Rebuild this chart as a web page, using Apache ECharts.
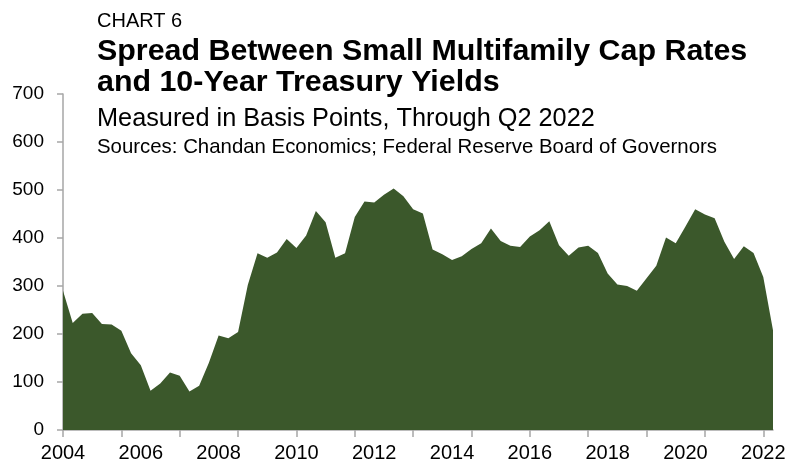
<!DOCTYPE html>
<html>
<head>
<meta charset="utf-8">
<script src="https://cdn.jsdelivr.net/npm/echarts@6/dist/echarts.min.js"></script>
<style>
  html, body { margin: 0; padding: 0; background: #ffffff; }
  #chart { width: 803px; height: 465px; }
</style>
</head>
<body>
<div id="chart"></div>
<script>
// Quarters from 2004 Q1 through 2022 Q2
const years = [];
for (let y = 2004; y <= 2022; y++) years.push(y);
const quarters = [];
years.forEach(y => {
  for (let q = 1; q <= 4; q++) {
    if (y === 2022 && q > 2) break;
    quarters.push(y + ' Q' + q);
  }
});

// Spread between small multifamily cap rates and 10-year Treasury yields (bps)
const spreadBps = [
  290, 223, 242, 244, 221, 220, 207, 160,
  135, 82, 97, 120, 113, 80, 92, 140,
  197, 191, 204, 302, 368, 359, 370, 398,
  379, 405, 456, 433, 359, 368, 444, 476,
  474, 490, 503, 487, 460, 451, 376, 366,
  354, 362, 377, 389, 420, 394, 384, 381,
  403, 416, 435, 385, 363, 380, 384, 369,
  326, 303, 300, 290, 316, 342, 401, 389,
  424, 460, 449, 441, 392, 356, 383, 369,
  319, 208
];

const yTicks = [0, 100, 200, 300, 400, 500, 600, 700];

const FONT = '"Liberation Sans", Arial, Helvetica, sans-serif';
const chart = echarts.init(document.getElementById('chart'), null, { renderer: 'canvas' });

chart.setOption({
  backgroundColor: '#ffffff',
  animation: false,
  title: [
    {
      text: 'CHART 6',
      left: 92, top: 6,
      textStyle: { fontFamily: FONT, fontSize: 20, fontWeight: 'normal', color: '#000000' }
    },
    {
      text: 'Spread Between Small Multifamily Cap Rates\nand 10-Year Treasury Yields',
      left: 92, top: 31,
      textStyle: { fontFamily: FONT, fontSize: 30.4, fontWeight: 'bold', color: '#000000', lineHeight: 31 }
    },
    {
      text: 'Measured in Basis Points, Through Q2 2022',
      left: 92, top: 102,
      textStyle: { fontFamily: FONT, fontSize: 25.3, fontWeight: 'normal', color: '#000000' }
    },
    {
      text: 'Sources: Chandan Economics; Federal Reserve Board of Governors',
      left: 92, top: 132,
      textStyle: { fontFamily: FONT, fontSize: 20.4, fontWeight: 'normal', color: '#000000' }
    }
  ],
  grid: { left: 63, right: 30, top: 94, bottom: 35, containLabel: false },
  xAxis: {
    type: 'category',
    data: quarters,
    boundaryGap: false,
    axisLine: { show: true, lineStyle: { color: '#a6a6a6', width: 1.5 } },
    axisTick: { show: true, interval: 5, length: 7, inside: false, lineStyle: { color: '#a6a6a6', width: 1.5 } },
    axisLabel: {
      interval: 7,
      margin: 13,
      fontFamily: FONT, fontSize: 20, color: '#000000',
      formatter: v => v.slice(0, 4)
    },
    splitLine: { show: false }
  },
  yAxis: {
    type: 'value',
    min: yTicks[0],
    max: yTicks[yTicks.length - 1],
    interval: 100,
    axisLine: { show: true, lineStyle: { color: '#a6a6a6', width: 1.5 } },
    axisTick: { show: true, length: 6, inside: false, lineStyle: { color: '#a6a6a6', width: 1.5 } },
    axisLabel: { margin: 19, fontFamily: FONT, fontSize: 19, color: '#000000' },
    splitLine: { show: false }
  },
  series: [{
    type: 'line',
    data: spreadBps,
    symbol: 'none',
    lineStyle: { width: 0 },
    areaStyle: { color: '#3b582b', opacity: 1 },
    z: 1
  }]
});
</script>
</body>
</html>
